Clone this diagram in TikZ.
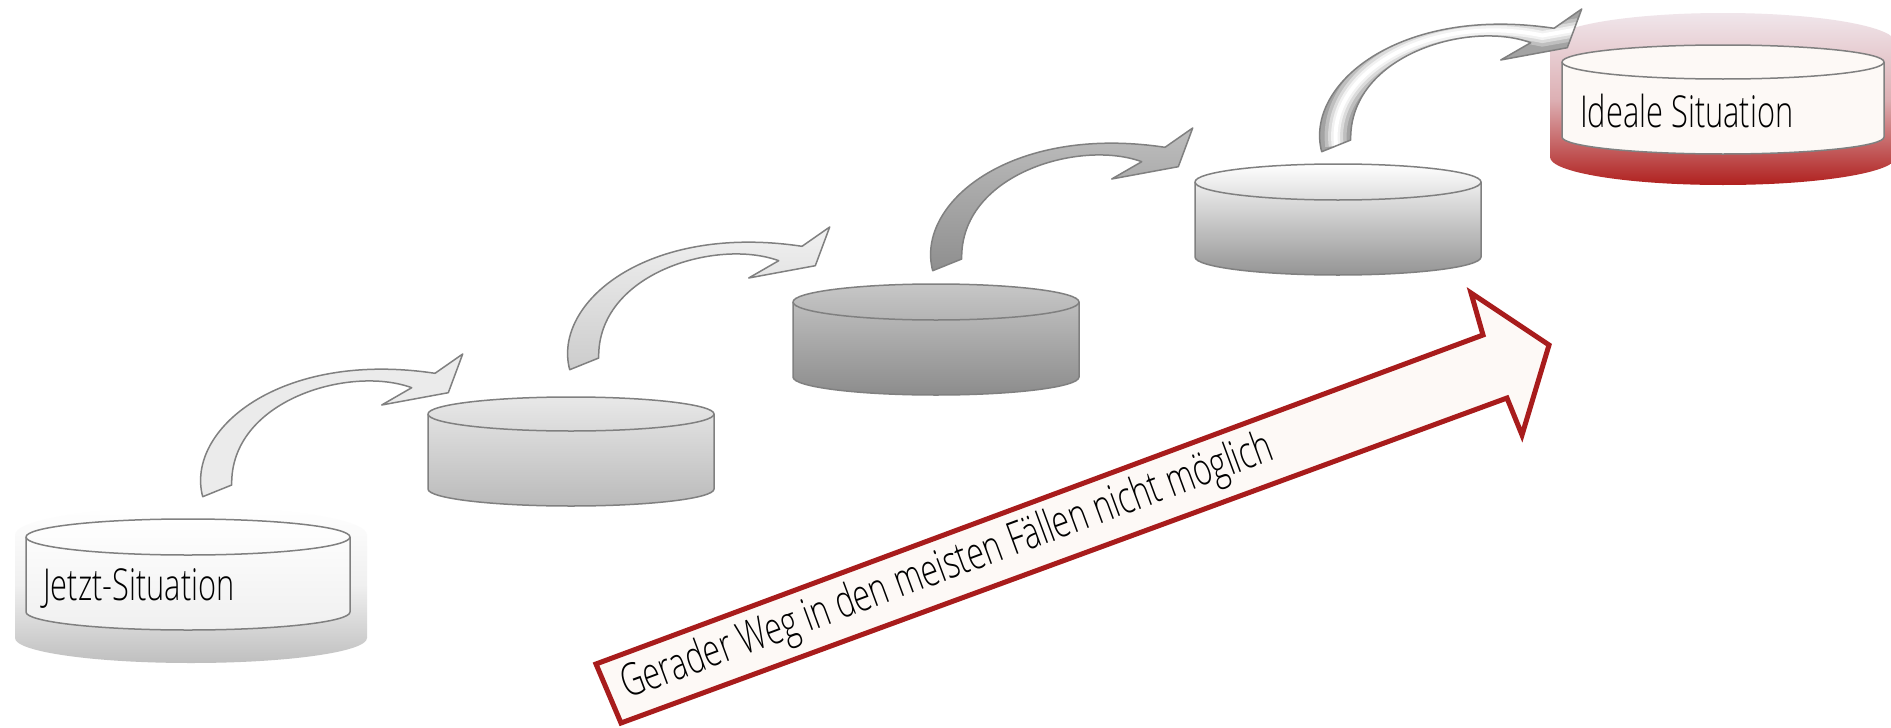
\documentclass[tikz,border=0pt]{standalone}
\usepackage{fontspec}
\newfontfamily\condfont[FakeStretch=0.70]{Open Sans Light}
\definecolor{cylgray}{HTML}{808080}
\definecolor{redline}{HTML}{A81C1C}
\definecolor{cream}{HTML}{FDF9F6}
\definecolor{pinktop}{HTML}{F0E6EB}
\definecolor{pinkmid}{HTML}{DDB0B4}
\definecolor{redbot}{HTML}{B0201E}
\newcommand{\mycyl}[6]{%
  \pgfmathsetmacro\cxr{(#2-#1)/2}
  \path[cylout, top color=#5, bottom color=#6] (#1,-#3) -- (#1,-#3-75)
    arc[start angle=180,end angle=360,x radius=\cxr,y radius=#4] -- (#2,-#3)
    arc[start angle=0,end angle=180,x radius=\cxr,y radius=#4] -- cycle;
  \draw[cylout] (#1,-#3) arc[start angle=180,end angle=360,x radius=\cxr,y radius=#4];
}
\newcommand{\arrowpath}{(22.7,-156.7) .. controls (5,-90) and (100,-10) .. (255,-33.3)
  -- (282.7,-14) -- (268.3,-52.7) -- (201.7,-65) -- (231.7,-47.7)
  .. controls (170,-25) and (50,-60) .. (51.7,-145) -- cycle}
\begin{document}
\begin{tikzpicture}[x=1pt,y=1pt,
  cylout/.style={draw=cylgray, line width=1.5pt},
  arrowline/.style={draw=cylgray, line width=1.5pt, line join=round},
  label/.style={inner sep=0pt, anchor=base west, font=\condfont\fontsize{44}{50}\selectfont}]
\useasboundingbox (0,0) rectangle (1891,-728);
\fill[white] (0,0) rectangle (1891,-728);
% glows
\path[top color=white, bottom color=black!25, middle color=black!6]
  (15,-535) -- (15,-638) arc[start angle=180,end angle=360,x radius=176,y radius=25]
  -- (367,-535) arc[start angle=0,end angle=180,x radius=176,y radius=28] -- cycle;
\path[top color=pinktop, bottom color=redbot, middle color=pinkmid]
  (1550,-43) -- (1550,-157) arc[start angle=180,end angle=360,x radius=173,y radius=28]
  -- (1896,-43) arc[start angle=0,end angle=180,x radius=173,y radius=30] -- cycle;
% cylinders
\mycyl{26}{350}{537}{18}{white}{black!6}
\mycyl{428}{714}{414}{17}{black!9}{black!27}
\mycyl{793}{1079}{302}{18}{black!22}{black!45}
\mycyl{1195}{1481}{182}{18}{white}{black!42}
\mycyl{1562}{1884}{62}{17}{cream}{cream}
% curved arrows
\begin{scope}[shift={(180,-340)}]
  \path[arrowline, fill=black!8] \arrowpath;
\end{scope}
\begin{scope}[shift={(547,-213)}]
  \path[arrowline, top color=black!5, bottom color=black!20] \arrowpath;
\end{scope}
\begin{scope}[shift={(910,-114)}]
  \path[arrowline, top color=black!25, bottom color=black!44] \arrowpath;
\end{scope}
\begin{scope}[shift={(1299,5)}]
  \begin{scope}
    \clip \arrowpath;
    \fill[black!36] (0,0) rectangle (300,-170);
    \draw[black!25, line width=22pt] (37.2,-150.9) .. controls (27.5,-75) and (135,-17.5) .. (243.3,-40.5) -- (280,-34);
    \draw[black!14, line width=15pt] (37.2,-150.9) .. controls (27.5,-75) and (135,-17.5) .. (243.3,-40.5) -- (280,-34);
    \draw[black!5, line width=9pt] (37.2,-150.9) .. controls (27.5,-75) and (135,-17.5) .. (243.3,-40.5) -- (280,-34);
    \draw[white, line width=4pt] (37.2,-150.9) .. controls (27.5,-75) and (135,-17.5) .. (243.3,-40.5) -- (280,-34);
  \end{scope}
  \draw[arrowline] \arrowpath;
\end{scope}
% red straight arrow
\draw[draw=redline, line width=5pt, fill=cream, line join=miter, miter limit=20]
  (596,-664) -- (1483,-335) -- (1471,-293) -- (1549,-345) -- (1522,-435) -- (1507,-398) -- (621,-723) -- cycle;
% texts
\node[label] (jetzt) at (43,-600) {Jetzt-Situation};
\node[label] (ideal) at (1580,-127) {Ideale Situation};
\node[label, rotate=20.3, font=\condfont\fontsize{45}{52}\selectfont] (weg) at (627,-699) {Gerader Weg in den meisten Fällen nicht möglich};
\end{tikzpicture}
\end{document}
